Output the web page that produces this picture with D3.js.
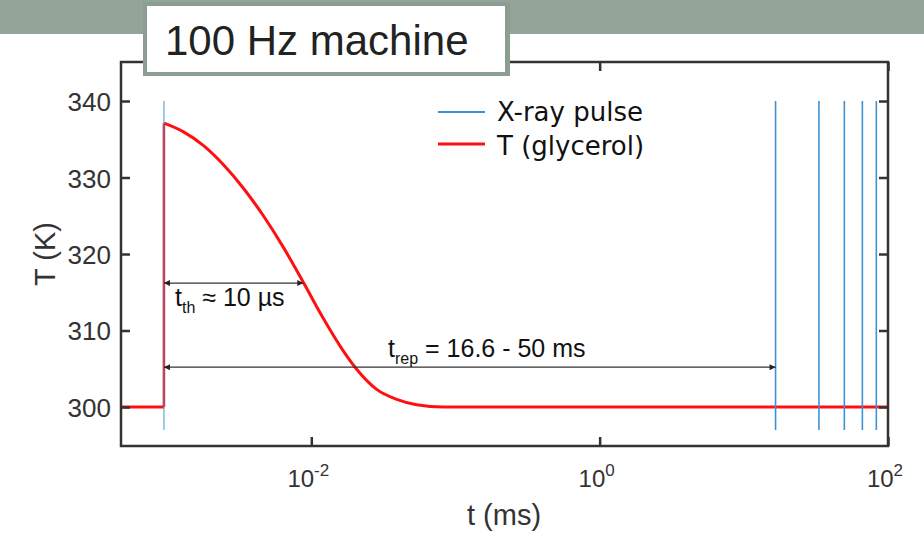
<!DOCTYPE html>
<html>
<head>
<meta charset="utf-8">
<script src="https://cdn.jsdelivr.net/npm/d3@7"></script>
<style>
  body { margin: 0; background: #fff; }
  svg { display: block; }
</style>
</head>
<body>
<div id="root"></div>
<script>
// DATA
const pulseTimes = [0.00095, 16.6, 33.2, 49.8, 66.4, 83.0];
const tempTime = [0.00048, 0.00095, 0.00095, 0.00129, 0.00178, 0.00245, 0.00338, 0.00465, 0.00639, 0.0088, 0.0121, 0.0167, 0.0207, 0.0284, 0.0391, 0.0538, 0.0823, 1, 100];
const tempValue = [300, 300, 337.1, 336.0, 334.2, 331.7, 328.6, 325.0, 320.9, 316.3, 311.6, 307.3, 304.9, 302.3, 301.0, 300.3, 300, 300, 300];
const yTicks = [300, 310, 320, 330, 340];
const xTickExp = [-2, 0, 2];
const legendLabels = ["X-ray pulse", "T (glycerol)"];

// DIMENSIONS
const width = 924, height = 541;
const plot = {left: 121, right: 888, top: 62, bottom: 446};

const svg = d3.select('#root').append('svg')
  .attr('width', width)
  .attr('height', height);

// HEADER BAND
svg.append('rect')
  .attr('x', 0).attr('y', 0)
  .attr('width', width).attr('height', 34)
  .attr('fill', '#93a598');

// SCALES
const x = d3.scaleLog()
  .domain([Math.pow(10, -3.32), 100])
  .range([plot.left, plot.right]);
const y = d3.scaleLinear()
  .domain([294.9, 345.1])
  .range([plot.bottom, plot.top]);

const axisColor = '#333';
const sans = 'Liberation Sans, Arial, sans-serif';

// TEMPERATURE LINE
const pts = tempTime.map((t, i) => [t, tempValue[i]]);
const straight = d3.line().x(d => x(d[0])).y(d => y(d[1]));
const smooth = d3.line().x(d => x(d[0])).y(d => y(d[1])).curve(d3.curveMonotoneX);
svg.append('path')
  .datum(pts.slice(0, 2))
  .attr('fill', 'none').attr('stroke', '#ff1010').attr('stroke-width', 3)
  .attr('d', straight);
svg.append('path')
  .datum(pts.slice(1, 3))
  .attr('fill', 'none').attr('stroke', '#ff1010').attr('stroke-width', 2.5)
  .attr('d', straight);
svg.append('path')
  .datum(pts.slice(2))
  .attr('fill', 'none').attr('stroke', '#ff1010').attr('stroke-width', 3)
  .attr('d', smooth);

// PULSES (drawn over the red jump)
svg.append('g').selectAll('line')
  .data(pulseTimes)
  .join('line')
  .attr('x1', d => x(d)).attr('x2', d => x(d))
  .attr('y1', y(340)).attr('y2', y(297))
  .attr('stroke', '#3d92d4')
  .attr('stroke-width', 1.6)
  .attr('stroke-opacity', (d, i) => i === 0 ? 0.6 : 1);

// AXES FRAME
svg.append('rect')
  .attr('x', plot.left).attr('y', plot.top)
  .attr('width', plot.right - plot.left).attr('height', plot.bottom - plot.top)
  .attr('fill', 'none').attr('stroke', axisColor).attr('stroke-width', 2.5);

// ticks on all four sides, pointing inward
const xTickVals = xTickExp.map(e => Math.pow(10, e));
const yAxisL = svg.append('g')
  .attr('transform', `translate(${plot.left},0)`)
  .call(d3.axisRight(y).tickValues(yTicks).tickSize(9).tickFormat(''));
const yAxisR = svg.append('g')
  .attr('transform', `translate(${plot.right},0)`)
  .call(d3.axisLeft(y).tickValues(yTicks).tickSize(9).tickFormat(''));
const xAxisB = svg.append('g')
  .attr('transform', `translate(0,${plot.bottom})`)
  .call(d3.axisTop(x).tickValues(xTickVals).tickSize(9).tickFormat(''));
const xAxisT = svg.append('g')
  .attr('transform', `translate(0,${plot.top})`)
  .call(d3.axisBottom(x).tickValues(xTickVals).tickSize(9).tickFormat(''));
[yAxisL, yAxisR, xAxisB, xAxisT].forEach(g => {
  g.select('.domain').remove();
  g.selectAll('line').attr('stroke', axisColor).attr('stroke-width', 2.5);
});

// Y tick labels
svg.append('g').selectAll('text')
  .data(yTicks)
  .join('text')
  .attr('x', plot.left - 10)
  .attr('y', d => y(d) + 10)
  .attr('text-anchor', 'end')
  .attr('font-family', sans)
  .attr('font-size', 26)
  .attr('fill', axisColor)
  .text(d => d);

// X tick labels 10^e
const xl = svg.append('g').selectAll('text')
  .data(xTickExp)
  .join('text')
  .attr('x', d => x(Math.pow(10, d)) - 3)
  .attr('y', 487)
  .attr('text-anchor', 'middle')
  .attr('font-family', sans)
  .attr('font-size', 24)
  .attr('fill', axisColor);
xl.append('tspan').text('10');
xl.append('tspan').attr('dy', -11).attr('font-size', 17).text(d => d);

// Axis titles
svg.append('text')
  .attr('x', 504)
  .attr('y', 525)
  .attr('text-anchor', 'middle')
  .attr('font-family', sans)
  .attr('font-size', 29)
  .attr('fill', axisColor)
  .text('t (ms)');
svg.append('text')
  .attr('transform', `translate(55,${(plot.top + plot.bottom) / 2}) rotate(-90)`)
  .attr('text-anchor', 'middle')
  .attr('font-family', sans)
  .attr('font-size', 29)
  .attr('fill', axisColor)
  .text('T (K)');

// ARROWS
svg.append('defs').append('marker')
  .attr('id', 'ah')
  .attr('viewBox', '0 0 10 10')
  .attr('refX', 10).attr('refY', 5)
  .attr('markerWidth', 10).attr('markerHeight', 6)
  .attr('markerUnits', 'userSpaceOnUse')
  .attr('orient', 'auto-start-reverse')
  .append('path').attr('d', 'M0,0L10,5L0,10Z').attr('fill', '#222');

function arrow(t0, t1, T) {
  svg.append('line')
    .attr('x1', x(t0)).attr('x2', x(t1))
    .attr('y1', y(T)).attr('y2', y(T))
    .attr('stroke', '#333').attr('stroke-width', 1.2)
    .attr('marker-start', 'url(#ah)')
    .attr('marker-end', 'url(#ah)');
}
arrow(0.00095, 0.0088, 316.2);
arrow(0.00095, 16.6, 305.2);

function subLabel(px, py, main, sub, rest) {
  const t = svg.append('text')
    .attr('x', px).attr('y', py)
    .attr('font-family', sans)
    .attr('font-size', 25)
    .attr('fill', '#111');
  t.append('tspan').text(main);
  t.append('tspan').attr('dy', 7).attr('font-size', 16).text(sub);
  t.append('tspan').attr('dy', -7).text(rest);
}
subLabel(175, 306, 't', 'th', ' \u2248 10 \u00b5s');
subLabel(388, 357, 't', 'rep', ' = 16.6 - 50 ms');

// LEGEND
const legColors = ['#3d92d4', '#ff1010'];
const leg = svg.append('g').selectAll('g')
  .data(legendLabels)
  .join('g')
  .attr('transform', (d, i) => `translate(438,${112 + i * 32})`);
leg.append('line')
  .attr('x1', 0).attr('x2', 47)
  .attr('stroke', (d, i) => legColors[i])
  .attr('stroke-width', (d, i) => i === 0 ? 1.8 : 3);
leg.append('text')
  .attr('x', 59).attr('y', (d, i) => i === 0 ? 9 : 11)
  .attr('font-family', 'DejaVu Sans, sans-serif')
  .attr('font-size', 26)
  .attr('fill', '#111')
  .text(d => d);

// TITLE BOX
svg.append('rect')
  .attr('x', 143).attr('y', 2)
  .attr('width', 367).attr('height', 74)
  .attr('fill', '#8c9e91');
svg.append('rect')
  .attr('x', 147).attr('y', 6)
  .attr('width', 358).attr('height', 66)
  .attr('fill', '#fff');
svg.append('text')
  .attr('x', 165).attr('y', 55)
  .attr('font-family', sans)
  .attr('font-size', 42)
  .attr('fill', '#222')
  .text('100 Hz machine');
</script>
</body>
</html>
